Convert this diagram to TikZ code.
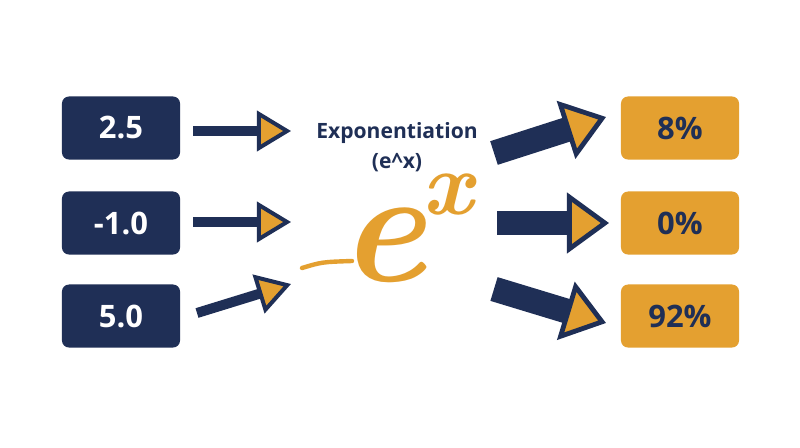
\documentclass[tikz,border=0pt]{standalone}
\usepackage{fontspec}
\setmainfont{Open Sans}
\newfontfamily\lmfont{Latin Modern Roman}
\usetikzlibrary{arrows.meta}
\definecolor{navy}{HTML}{1F2F56}
\definecolor{gold}{HTML}{E4A030}
\begin{document}
\begin{tikzpicture}[x=0.025cm,y=-0.025cm,
    inbox/.style={fill=navy,text=white,rounded corners=5pt,minimum width=2.95cm,minimum height=1.575cm,font=\bfseries\fontsize{22}{22}\selectfont},
    outbox/.style={inbox,fill=gold,text=navy},
    label/.style={navy,inner sep=0pt,font=\bfseries\fontsize{15}{18}\selectfont},
    sym/.style={gold,inner sep=0pt,anchor=base},
    slim/.style={navy,line width=0.25cm,-{Triangle[length=0.85cm,width=1cm,fill=gold,line width=0.1cm]}},
    fat/.style={navy,line width=0.62cm,-{Triangle[length=1.05cm,width=1.5cm,fill=gold,line width=0.12cm]}}]
  \useasboundingbox[fill=white] (0,0) rectangle (800,447);
  % inputs and outputs
  \node[inbox] (In1) at (121,128) {2.5};
  \node[inbox] (In2) at (121,223) {-1.0};
  \node[inbox] (In3) at (121,316) {5.0};
  \node[outbox] (Out1) at (680,128) {8\%};
  \node[outbox] (Out2) at (680,223) {0\%};
  \node[outbox] (Out3) at (680,316) {92\%};
  % the function
  \node[label] (Title) at (397,133) {Exponentiation};
  \node[label] (Formula) at (397,163) {(e\textasciicircum x)};
  \node[sym,font=\lmfont\bfseries\itshape\fontsize{116}{116}\selectfont] (Base) at (383,281) {e};
  \node[sym,font=\lmfont\bfseries\itshape\fontsize{64}{64}\selectfont] (Power) at (448,214) {x};
  \draw[gold,line width=0.11cm,line cap=round] (302,268) .. controls (322,262) .. (352,261);
  % arrows in
  \coordinate (A1) at (193,131); \coordinate (B1) at (291,131);
  \coordinate (A2) at (193,222); \coordinate (B2) at (291,222);
  \coordinate (A3) at (197,313); \coordinate (B3) at (291,284);
  \foreach \i in {1,2,3}{%
    \draw[slim] (A\i) -- (B\i);
  }
  % arrows out
  \coordinate (C1) at (494,153); \coordinate (D1) at (606,117);
  \coordinate (C2) at (497,223); \coordinate (D2) at (609,223);
  \coordinate (C3) at (494,289); \coordinate (D3) at (606,323);
  \foreach \i in {1,2,3}{%
    \draw[fat] (C\i) -- (D\i);
  }
\end{tikzpicture}
\end{document}
